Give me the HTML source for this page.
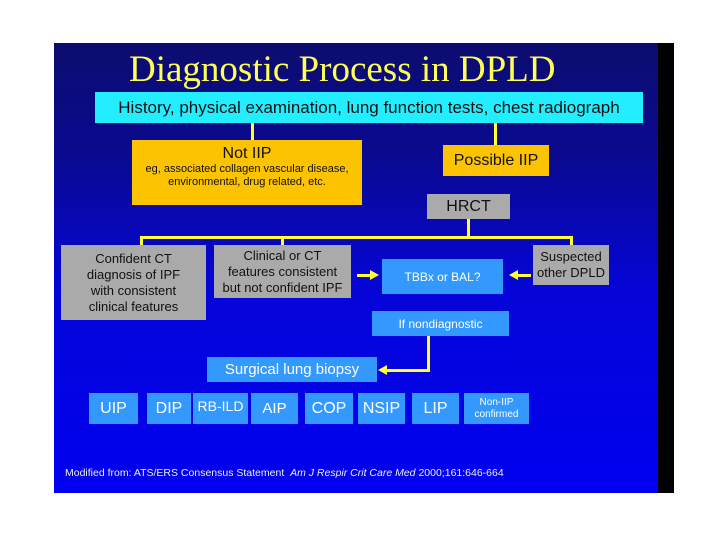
<!DOCTYPE html>
<html><head><style>
body{margin:0;width:720px;height:540px;background:#fff;position:relative;overflow:hidden;font-family:"Liberation Sans",sans-serif}
#s{position:absolute;left:54px;top:43px;width:620px;height:450px;background:linear-gradient(#0c0c70 0%,#0a0a90 25%,#0505d8 55%,#0000f0 100%)}
#blk{position:absolute;left:658px;top:43px;width:16px;height:450px;background:#000}
.b{position:absolute;display:flex;align-items:center;justify-content:center;text-align:center;color:#111}
.y{background:#fcc300}.g{background:#aaaaaa}.l{background:#3399ff;color:#fff}
.ln{position:absolute;background:#ffff33}
</style></head><body>
<div id="s"></div><div id="blk"></div>
<div style="position:absolute;left:129px;top:48px;font-family:'Liberation Serif',serif;font-size:37px;color:#ffff55;white-space:nowrap">Diagnostic Process in DPLD</div>
<div class="b" style="left:95px;top:92px;width:548px;height:31px;background:#22eeff;font-size:17px">History, physical examination, lung function tests, chest radiograph</div>
<div class="ln" style="left:251px;top:123px;width:3px;height:17px"></div>
<div class="ln" style="left:494px;top:123px;width:3px;height:22px"></div>
<div class="b y" style="left:132px;top:140px;width:230px;height:65px;flex-direction:column;justify-content:flex-start;padding-top:5px;box-sizing:border-box"><div style="font-size:16px">Not IIP</div><div style="font-size:11px;line-height:13px">eg, associated collagen vascular disease,<br>environmental, drug related, etc.</div></div>
<div class="b y" style="left:443px;top:145px;width:106px;height:31px;font-size:16px">Possible IIP</div>
<div class="b g" style="left:427px;top:194px;width:83px;height:25px;font-size:16px">HRCT</div>
<div class="ln" style="left:467px;top:219px;width:3px;height:19px"></div>
<div class="ln" style="left:140px;top:236px;width:433px;height:3px"></div>
<div class="ln" style="left:140px;top:236px;width:3px;height:9px"></div>
<div class="ln" style="left:281px;top:236px;width:3px;height:9px"></div>
<div class="ln" style="left:570px;top:236px;width:3px;height:9px"></div>
<div class="b g" style="left:61px;top:245px;width:145px;height:75px;font-size:13px;line-height:16px">Confident CT<br>diagnosis of IPF<br>with consistent<br>clinical features</div>
<div class="b g" style="left:214px;top:245px;width:137px;height:53px;font-size:13px;line-height:16px">Clinical or CT<br>features consistent<br>but not confident IPF</div>
<div class="b l" style="left:382px;top:259px;width:121px;height:35px;font-size:12px">TBBx or BAL?</div>
<div class="b g" style="left:533px;top:245px;width:76px;height:40px;font-size:13px;line-height:16px">Suspected<br>other DPLD</div>
<div class="ln" style="left:357px;top:274px;width:14px;height:3px"></div>
<div style="position:absolute;left:370px;top:270px;border-left:9px solid #ffff33;border-top:5px solid transparent;border-bottom:5px solid transparent"></div>
<div class="ln" style="left:518px;top:274px;width:13px;height:3px"></div>
<div style="position:absolute;left:509px;top:270px;border-right:9px solid #ffff33;border-top:5px solid transparent;border-bottom:5px solid transparent"></div>
<div class="b l" style="left:372px;top:311px;width:137px;height:25px;font-size:12px">If nondiagnostic</div>
<div class="ln" style="left:427px;top:336px;width:3px;height:36px"></div>
<div class="ln" style="left:386px;top:369px;width:44px;height:3px"></div>
<div style="position:absolute;left:378px;top:365px;border-right:9px solid #ffff33;border-top:5px solid transparent;border-bottom:5px solid transparent"></div>
<div class="b l" style="left:207px;top:357px;width:170px;height:25px;font-size:15px">Surgical lung biopsy</div>
<div class="b l" style="left:89px;top:393px;width:49px;height:31px;font-size:16px">UIP</div>
<div class="b l" style="left:147px;top:393px;width:44px;height:31px;font-size:16px">DIP</div>
<div class="b l" style="left:193px;top:393px;width:55px;height:31px;font-size:14px;align-items:flex-start;padding-top:5px;box-sizing:border-box">RB-ILD</div>
<div class="b l" style="left:251px;top:393px;width:47px;height:31px;font-size:15px">AIP</div>
<div class="b l" style="left:305px;top:393px;width:48px;height:31px;font-size:16px">COP</div>
<div class="b l" style="left:358px;top:393px;width:47px;height:31px;font-size:16px">NSIP</div>
<div class="b l" style="left:412px;top:393px;width:47px;height:31px;font-size:16px">LIP</div>
<div class="b l" style="left:464px;top:393px;width:65px;height:31px;font-size:10px;line-height:12px">Non-IIP<br>confirmed</div>
<div style="position:absolute;left:65px;top:467px;font-size:10.5px;color:#eee">Modified from: ATS/ERS Consensus Statement &nbsp;<i>Am J Respir Crit Care Med</i> 2000;161:646-664</div>
</body></html>
